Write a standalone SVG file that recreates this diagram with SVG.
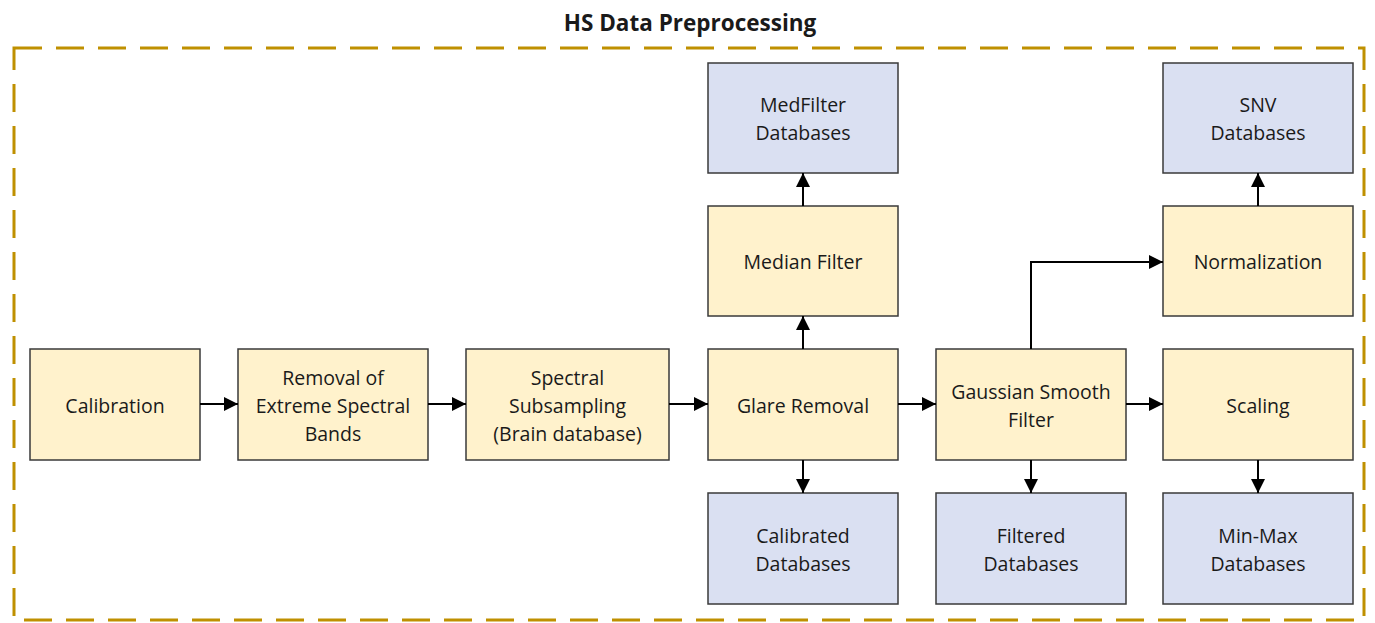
<svg xmlns="http://www.w3.org/2000/svg" width="1375" height="623" viewBox="0 0 1375 623">
<style>
.p{fill:#FFF2CC;stroke:#3a3a3a;stroke-width:1.5}
.d{fill:#DAE0F2;stroke:#3a3a3a;stroke-width:1.5}
text{font-family:"Open Sans","Noto Sans",sans-serif;font-size:19.5px;fill:#1a1a1a;text-anchor:middle;dominant-baseline:central}
.c{fill:none;stroke:#000;stroke-width:2;marker-end:url(#ah)}
</style>
<defs>
<marker id="ah" viewBox="0 0 14 14" refX="14" refY="7" markerWidth="14" markerHeight="14" markerUnits="userSpaceOnUse" orient="auto">
<path d="M0,0 L14,7 L0,14 z" fill="#000"/>
</marker>
</defs>
<rect width="1375" height="623" fill="#fff"/>
<text x="690" y="22" style="font-weight:bold;font-size:22.5px">HS Data Preprocessing</text>
<rect id="frame" x="14" y="48" width="1350" height="572" fill="none" stroke="#BF9000" stroke-width="3" stroke-dasharray="28,14"/>
<g id="calibration"><rect class="p" x="30" y="349" width="170" height="111"/><text x="115" y="405">Calibration</text></g>
<g id="removal"><rect class="p" x="238" y="349" width="190" height="111"/><text x="333" y="377">Removal of</text><text x="333" y="405">Extreme Spectral</text><text x="333" y="433">Bands</text></g>
<g id="subsampling"><rect class="p" x="466" y="349" width="203" height="111"/><text x="567.5" y="377">Spectral</text><text x="567.5" y="405">Subsampling</text><text x="567.5" y="433">(Brain database)</text></g>
<g id="glare"><rect class="p" x="708" y="349" width="190" height="111"/><text x="803" y="405">Glare Removal</text></g>
<g id="gaussian"><rect class="p" x="936" y="349" width="190" height="111"/><text x="1031" y="391">Gaussian Smooth</text><text x="1031" y="419">Filter</text></g>
<g id="scaling"><rect class="p" x="1163" y="349" width="190" height="111"/><text x="1258" y="405">Scaling</text></g>
<g id="median"><rect class="p" x="708" y="206" width="190" height="110"/><text x="803" y="261">Median Filter</text></g>
<g id="normalization"><rect class="p" x="1163" y="206" width="190" height="110"/><text x="1258" y="261">Normalization</text></g>
<g id="medfilterdb"><rect class="d" x="708" y="63" width="190" height="110"/><text x="803" y="104">MedFilter</text><text x="803" y="132">Databases</text></g>
<g id="snvdb"><rect class="d" x="1163" y="63" width="190" height="110"/><text x="1258" y="104">SNV</text><text x="1258" y="132">Databases</text></g>
<g id="calibrateddb"><rect class="d" x="708" y="493" width="190" height="111"/><text x="803" y="535">Calibrated</text><text x="803" y="563">Databases</text></g>
<g id="filtereddb"><rect class="d" x="936" y="493" width="190" height="111"/><text x="1031" y="535">Filtered</text><text x="1031" y="563">Databases</text></g>
<g id="minmaxdb"><rect class="d" x="1163" y="493" width="190" height="111"/><text x="1258" y="535">Min-Max</text><text x="1258" y="563">Databases</text></g>
<g id="connectors">
<path class="c" d="M200,404 H238"/>
<path class="c" d="M428,404 H466"/>
<path class="c" d="M669,404 H708"/>
<path class="c" d="M898,404 H936"/>
<path class="c" d="M1126,404 H1163"/>
<path class="c" d="M803,349 V316"/>
<path class="c" d="M803,206 V173"/>
<path class="c" d="M803,460 V493"/>
<path class="c" d="M1031,460 V493"/>
<path class="c" d="M1258,460 V493"/>
<path class="c" d="M1258,206 V173"/>
<path class="c" d="M1031,349 V262 H1163"/>
</g>
</svg>
